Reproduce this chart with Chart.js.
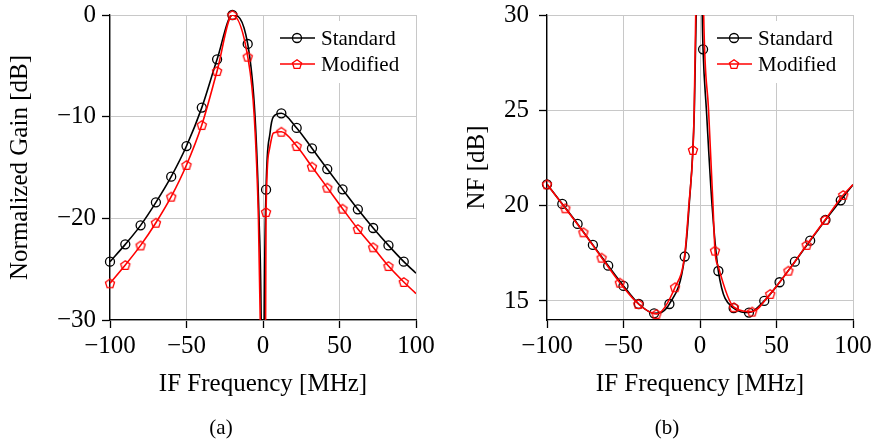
<!DOCTYPE html>
<html>
<head>
<meta charset="utf-8">
<script src="https://cdn.jsdelivr.net/npm/chart.js@4.4.0/dist/chart.umd.min.js"></script>
<style>
  html, body { margin: 0; padding: 0; background: #fff; }
  #wrap { position: relative; width: 875px; height: 444px; }
  canvas { position: absolute; top: 0; }
  #gainChart { left: 0; }
  #nfChart { left: 437px; }
  .cap { position: absolute; top: 415px; width: 100px; text-align: center;
         font: 21px/24px "Liberation Serif", serif; color: #000; }
</style>
</head>
<body>
<div id="wrap">
  <canvas id="gainChart" width="437" height="444"></canvas>
  <canvas id="nfChart" width="438" height="444"></canvas>
  <div class="cap" style="left:171px">(a)</div>
  <div class="cap" style="left:617px">(b)</div>
</div>
<script>
// ---- data ----
const freqTicks = [-100, -50, 0, 50, 100];
const gainTicks = [-30, -20, -10, 0];
const nfTicks = [15, 20, 25, 30];

// gain markers [MHz] / [dB]
const gainFreq = [-100, -90, -80, -70, -60, -50, -40, -30, -20, -10, 2, 12, 22, 32, 42, 52, 62, 72, 82, 92];
const gainStandard = [-24.26, -22.56, -20.69, -18.43, -15.90, -12.89, -9.11, -4.36, 0, -2.85,
                      -17.18, -9.67, -11.11, -13.11, -15.15, -17.15, -19.11, -20.95, -22.66, -24.26];
const gainModified = [-26.39, -24.59, -22.66, -20.43, -17.87, -14.75, -10.82, -5.51, 0, -4.10,
                      -19.38, -11.48, -12.89, -14.92, -16.98, -19.05, -21.05, -22.85, -24.69, -26.26];

// extra curve samples around the image notch and at the band edge
const gainStdCurveFreq = [-5.2, -2.6, -1.2, 0, 0.8, 4.6, 6.8, 100];
const gainStdCurve = [-10, -20, -30, -60, -30, -11.6, -10.0, -25.4];
const gainModCurveFreq = [-5.7, -3.0, -1.8, 0, 1.7, 4.1, 6.8, 100];
const gainModCurve = [-10, -20, -30, -60, -30, -13.3, -11.6, -27.4];

// noise figure markers
const nfStdFreq = [-100, -90, -80, -70, -60, -50, -40, -30, -20, -10, 2, 12, 22, 32, 42, 52, 62, 72, 82, 92];
const nfStandard = [21.12, 20.09, 19.04, 17.94, 16.85, 15.79, 14.84, 14.35, 14.84, 17.33,
                    28.20, 16.57, 14.62, 14.39, 15.00, 15.98, 17.06, 18.16, 19.25, 20.28];
const nfModFreq = [-100, -88, -76.2, -64.3, -52.4, -40.3, -28.5, -16.3, -4.6,
                   9.8, 22.2, 34.1, 45.9, 57.8, 69.7, 81.7, 93.6];
const nfModified = [21.12, 19.86, 18.60, 17.27, 15.96, 14.84, 14.32, 15.72, 22.92,
                    17.64, 14.67, 14.44, 15.37, 16.59, 17.94, 19.25, 20.56];

// extra curve samples around the spike at 0 MHz
const nfStdCurveFreq = [-7.1, -3.7, -2.5, 0, 1.5, 4.2, 7.9, 100];
const nfStdCurve = [20, 25, 30, 45, 30, 25, 20, 21.1];
const nfModCurveFreq = [-10, -7.3, -3.8, -2.8, 0, 2.4, 5.6, 8.5, 12, 100];
const nfModCurve = [17.4, 20, 25, 30, 45, 30, 25, 20, 16.8, 21.1];

// ---- helpers ----
const FONT = '"Liberation Serif", "Times New Roman", serif';
Chart.defaults.font.family = FONT;
Chart.defaults.color = '#000';

function pts(xs, ys) { return xs.map((x, i) => ({ x: x, y: ys[i] })); }
function curve(xs, ys, xs2, ys2) {
  return pts(xs.concat(xs2), ys.concat(ys2)).sort((a, b) => a.x - b.x);
}
function fmt(v) { return v < 0 ? '\u2212' + Math.abs(v) : String(v); }

function pentagon(color) {
  const s = 14, r = 4.8;
  const c = document.createElement('canvas');
  c.width = s; c.height = s;
  const g = c.getContext('2d');
  g.strokeStyle = color;
  g.lineWidth = 1.3;
  g.beginPath();
  for (let k = 0; k < 5; k++) {
    const a = -Math.PI / 2 + k * 2 * Math.PI / 5;
    const px = s / 2 + r * Math.cos(a), py = s / 2 + 0.5 + r * Math.sin(a);
    if (k) g.lineTo(px, py); else g.moveTo(px, py);
  }
  g.closePath();
  g.stroke();
  return c;
}
const redPent = pentagon('#ff0000');

// legend: line + marker + label, white box in the upper right corner
const lineLegend = {
  id: 'lineLegend',
  afterDraw(chart) {
    const { ctx, chartArea } = chart;
    const x0 = chartArea.right - 136;
    ctx.save();
    ctx.fillStyle = '#fff';
    ctx.fillRect(chartArea.right - 140, chartArea.top + 6, 136, 62);
    const items = chart.data.datasets.filter(d => d.showLine === false).reverse();
    items.forEach((d, i) => {
      const y = chartArea.top + 23 + i * 26;
      ctx.strokeStyle = d.borderColor;
      ctx.lineWidth = 1.6;
      ctx.beginPath(); ctx.moveTo(x0, y); ctx.lineTo(x0 + 35, y); ctx.stroke();
      if (d.pointStyle === 'circle') {
        ctx.lineWidth = 1.3;
        ctx.beginPath(); ctx.arc(x0 + 17, y, 4.5, 0, Math.PI * 2); ctx.stroke();
      } else {
        ctx.drawImage(d.pointStyle, x0 + 17 - 7, y - 7);
      }
      ctx.fillStyle = '#000';
      ctx.font = '21px ' + FONT;
      ctx.textBaseline = 'middle';
      ctx.fillText(d.label, x0 + 41, y + 1);
    });
    ctx.restore();
  }
};

function lineSet(data, color) {
  return { data: data, borderColor: color, borderWidth: 1.6, pointRadius: 0,
           cubicInterpolationMode: 'monotone', fill: false };
}
function markSet(label, data, color, style) {
  return { label: label, data: data, showLine: false, borderColor: color,
           pointStyle: style, pointRadius: 4.5, pointBorderWidth: 1.3,
           pointBackgroundColor: 'rgba(0,0,0,0)', clip: false };
}

const gridOpts = { color: '#c8c8c8', lineWidth: 1, tickColor: '#000', tickLength: 8, tickWidth: 1.3 };
const borderOpts = { color: '#000', width: 1.3 };

function options(yMin, yMax, yTicks, yTitle, yTitlePad, yLabelPad, rightPad) {
  return {
    responsive: false,
    animation: false,
    layout: { padding: { top: 15, right: rightPad, left: 0, bottom: 0 } },
    plugins: { legend: { display: false }, tooltip: { enabled: false } },
    scales: {
      x: {
        type: 'linear', min: -100, max: 100,
        afterBuildTicks: s => { s.ticks = freqTicks.map(v => ({ value: v })); },
        afterFit: s => { s.height = 124; s.paddingLeft = 0; s.paddingRight = 0; },
        ticks: { font: { size: 25 }, color: '#000', padding: 3, maxRotation: 0, callback: fmt },
        grid: gridOpts, border: borderOpts,
        title: { display: true, text: 'IF Frequency [MHz]', font: { size: 25 }, color: '#000',
                 padding: { top: 0, bottom: 45 } }
      },
      y: {
        type: 'linear', min: yMin, max: yMax,
        afterBuildTicks: s => { s.ticks = yTicks.map(v => ({ value: v })); },
        afterFit: s => { s.width = 110; s.paddingTop = 0; s.paddingBottom = 0; },
        ticks: { font: { size: 25 }, color: '#000', padding: yLabelPad, callback: fmt },
        grid: gridOpts, border: borderOpts,
        title: { display: true, text: yTitle, font: { size: 25 }, color: '#000',
                 padding: { top: yTitlePad, bottom: 0 } }
      }
    }
  };
}

new Chart(document.getElementById('gainChart'), {
  type: 'line',
  data: {
    datasets: [
      markSet('Modified', pts(gainFreq, gainModified), '#ff0000', redPent),
      lineSet(curve(gainFreq, gainModified, gainModCurveFreq, gainModCurve), '#ff0000'),
      markSet('Standard', pts(gainFreq, gainStandard), '#000000', 'circle'),
      lineSet(curve(gainFreq, gainStandard, gainStdCurveFreq, gainStdCurve), '#000000')
    ]
  },
  options: options(-30, 0, gainTicks, 'Normalized Gain [dB]', 5, 6, 21),
  plugins: [lineLegend]
});

new Chart(document.getElementById('nfChart'), {
  type: 'line',
  data: {
    datasets: [
      markSet('Modified', pts(nfModFreq, nfModified), '#ff0000', redPent),
      lineSet(curve(nfModFreq, nfModified, nfModCurveFreq, nfModCurve), '#ff0000'),
      markSet('Standard', pts(nfStdFreq, nfStandard), '#000000', 'circle'),
      lineSet(curve(nfStdFreq, nfStandard, nfStdCurveFreq, nfStdCurve), '#000000')
    ]
  },
  options: options(14, 30, nfTicks, 'NF [dB]', 25, 10, 22),
  plugins: [lineLegend]
});
</script>
</body>
</html>
